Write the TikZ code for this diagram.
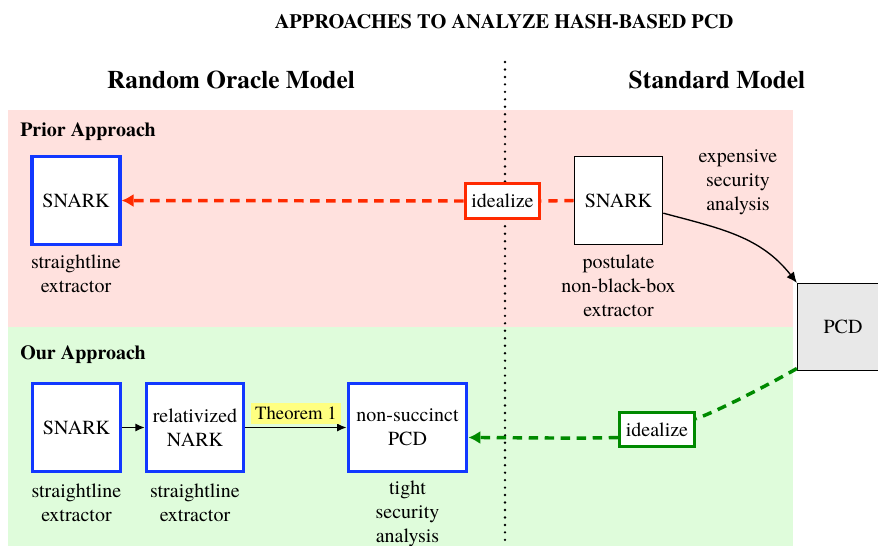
\documentclass[tikz,border=0pt]{standalone}
\usepackage{fontspec}
\setmainfont{texgyretermes}[Extension=.otf, UprightFont=*-regular, BoldFont=*-bold, ItalicFont=*-italic, BoldItalicFont=*-bolditalic]
\usetikzlibrary{arrows.meta}
\definecolor{pinkbg}{HTML}{FFE1DE}
\definecolor{greenbg}{HTML}{DFFCDB}
\definecolor{boxblue}{HTML}{1238FF}
\definecolor{idred}{HTML}{FF2A00}
\definecolor{idgreen}{HTML}{008A00}
\definecolor{thmyellow}{HTML}{FFFF80}
\definecolor{pcdgray}{HTML}{E8E8E8}
\tikzset{
  body/.style={font=\fontsize{15}{18}\selectfont},
  bluebox/.style={draw=boxblue, line width=2.4pt, fill=white, minimum width=66pt, minimum height=66pt, inner sep=0pt, align=center, body},
  blackbox/.style={draw=black, line width=1.2pt, fill=white, minimum width=66pt, minimum height=66pt, inner sep=0pt, align=center, body},
  lbl/.style={align=center, body, inner sep=0pt},
  idbox/.style={line width=2.4pt, fill=white, body, inner sep=3pt, minimum height=26pt, minimum width=56pt},
  hdr/.style={font=\bfseries\fontsize{19}{22}\selectfont},
  sect/.style={font=\bfseries\fontsize{15}{18}\selectfont, anchor=west, inner sep=0pt},
}
\begin{document}
\begin{tikzpicture}[x=0.75pt, y=-0.75pt]
\useasboundingbox (0,0) rectangle (878,546);
\fill[white] (0,0) rectangle (878,546);
% bands
\fill[pinkbg] (8,110) rectangle (793,327);
\fill[greenbg] (8,327) rectangle (793,546);
% dotted divider
\draw[line width=2pt, line cap=round, dash pattern=on 0pt off 5.6pt] (505,62) -- (505,546);
% title and headers
\node[font=\bfseries\fontsize{15.3}{18}\selectfont] (title) at (504,22) {APPROACHES TO ANALYZE HASH-BASED PCD};
\node[hdr] (rom) at (231,80) {Random Oracle Model};
\node[hdr] (std) at (717,80) {Standard Model};
\node[sect] (prior) at (20,132) {Prior Approach};
\node[sect] (our) at (20,355) {Our Approach};
% prior approach
\node[bluebox] (snarkL) at (76,200.5) {SNARK};
\node[lbl] (snarkLlbl) at (76,274) {straightline\\extractor};
\node[blackbox] (snarkR) at (618.5,200.5) {SNARK};
\node[lbl] (snarkRlbl) at (618.5,286) {postulate\\non-black-box\\extractor};
\node[lbl] (expensive) at (738,182.5) {expensive\\security\\analysis};
\node[idbox, draw=idred] (idR) at (502.5,201) {idealize};
% PCD box
\node[draw=black, line width=1.2pt, fill=pcdgray, minimum width=68pt, minimum height=65pt, inner sep=0pt, body] (pcd) at (843,327) {PCD};
% our approach
\node[bluebox] (snarkO) at (76.5,427.5) {SNARK};
\node[lbl] (snarkOlbl) at (76.5,502.5) {straightline\\extractor};
\node[bluebox, minimum width=73pt] (nark) at (195,427.5) {relativized\\NARK};
\node[lbl] (narklbl) at (195,502.5) {straightline\\extractor};
\node[bluebox, minimum width=89pt] (ncpcd) at (407.5,427.5) {non-succinct\\PCD};
\node[lbl] (ncpcdlbl) at (407.5,514) {tight\\security\\analysis};
\node[idbox, draw=idgreen] (idG) at (657,429.5) {idealize};
% connectors
\draw[-{Latex[length=7pt,width=6pt]}, line width=1pt] (snarkO.east) -- (nark.east -| nark.west);
\draw[-{Latex[length=7pt,width=6pt]}, line width=1pt] (nark.east) -- node[above=2pt, fill=thmyellow, inner sep=3pt, font=\fontsize{14}{16}\selectfont] (thm) {Theorem 1} (ncpcd.west);
\draw[-{Latex[length=8pt,width=7pt]}, line width=1pt] ([yshift=-9.5pt]snarkR.east) to[out=-15, in=128] (pcd.north west);
\draw[idred, line width=2.6pt, dash pattern=on 7pt off 5pt] (snarkR.west) -- (idR.east);
\draw[idred, line width=2.6pt, dash pattern=on 7pt off 5pt, -{Latex[length=9pt,width=10pt]}] (idR.west) -- (snarkL.east);
\draw[idgreen, line width=2.6pt, dash pattern=on 7pt off 5pt] ([yshift=2pt]pcd.south west) to[out=-150, in=20, looseness=0.6] ([yshift=8pt]idG.east);
\draw[idgreen, line width=2.6pt, dash pattern=on 7pt off 5pt, -{Latex[length=9pt,width=10pt]}] ([yshift=-6pt]idG.west) to[out=182, in=0, looseness=0.6] ([yshift=-7.5pt]ncpcd.east);
\end{tikzpicture}
\end{document}
